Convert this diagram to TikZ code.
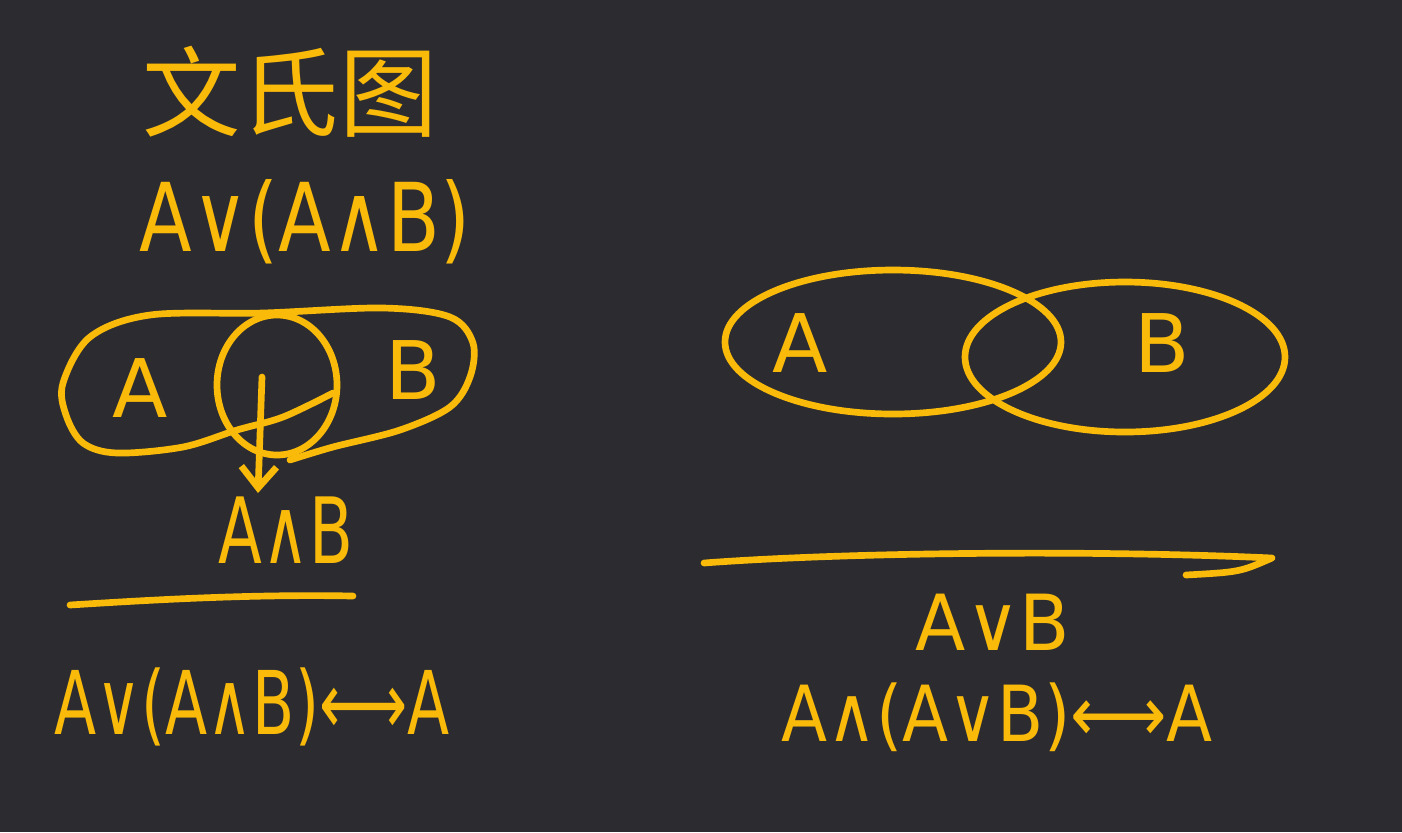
\documentclass[tikz,border=0pt]{standalone}
\usepackage{fontspec}
\newfontfamily\cjk{Noto Sans CJK SC}
\newfontfamily\hand{DejaVu Sans}
\usetikzlibrary{arrows.meta}
\definecolor{bg}{RGB}{44,44,48}
\definecolor{yel}{RGB}{250,186,10}
\begin{document}
\begin{tikzpicture}[x=0.01cm,y=-0.01cm,
  ink/.style={draw=yel,line width=1.9pt,line cap=round,line join=round},
  txt/.style={text=yel,inner sep=0pt,anchor=center},
  hf/.style={font=\hand\fontsize{#1}{#1}\selectfont}]
\fill[bg] (0,0) rectangle (1402,832);
\useasboundingbox (0,0) rectangle (1402,832);

% title
\node[txt,font=\cjk\fontsize{28}{30}\selectfont] (title) at (290,92) {文氏图};
\node[txt,hf=27,xscale=0.81] (f1) at (305,222) {A∨(A∧B)};

% left venn
\draw[ink] plot[smooth,tension=0.55] coordinates {(333,393) (283,417) (237,430) (183,447) (117,453) (83,443) (66,415) (63,383) (90,337) (150,315) (263,313) (383,308) (450,317) (473,343) (470,377) (450,407) (400,430) (333,447) (290,460)};
\draw[ink] (277,385) ellipse [x radius=60, y radius=70];
\node[txt,hf=23] (la) at (140,388) {A};
\node[txt,hf=23] (lb) at (413,370) {B};
\coordinate (arrS) at (262,377);
\coordinate (arrE) at (258,493);
\draw[ink,-{Straight Barb[length=6pt,width=10pt]}] (arrS) -- (arrE);
\node[txt,hf=26,xscale=0.70] (ab) at (286,530) {A∧B};
\coordinate (l1) at (70,605);
\coordinate (l2) at (353,596);
\draw[ink] (l1) .. controls (150,600) and (250,594) .. (l2);
\node[txt,hf=25,xscale=0.70] (f2) at (252,707) {A∨(A∧B)⟷A};

% right venn
\draw[ink] (893,342) ellipse [x radius=168, y radius=72];
\draw[ink] (1125,357) ellipse [x radius=160, y radius=75];
\node[txt,hf=23] (ra) at (800,343) {A};
\node[txt,hf=23] (rb) at (1162,343) {B};
\coordinate (r1) at (704,563);
\coordinate (r2) at (1272,558);
\coordinate (r3) at (1186,575);
\draw[ink] (r1) .. controls (850,552) and (1100,550) .. (r2) .. controls (1240,572) .. (r3);
\node[txt,hf=22,xscale=0.95] (f3) at (993,622) {A∨B};
\node[txt,hf=22,xscale=0.87] (f4) at (997,717) {A∧(A∨B)⟷A};
\end{tikzpicture}
\end{document}
